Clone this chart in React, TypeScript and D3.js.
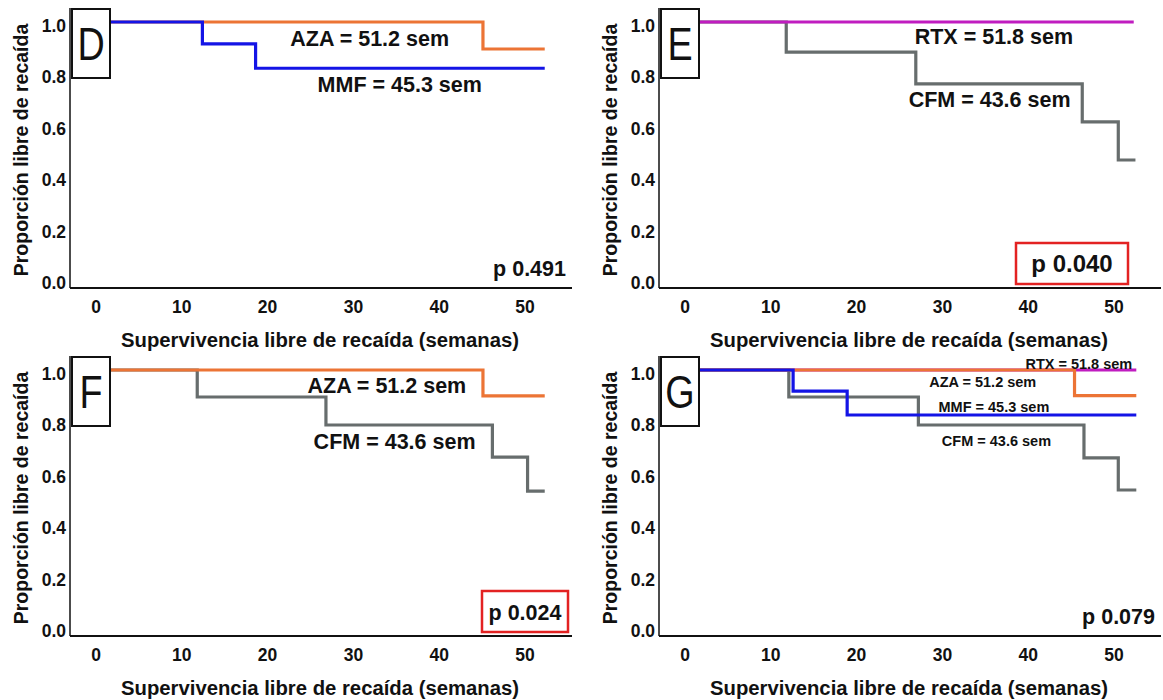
import { useEffect, useRef } from 'react';
import * as d3 from 'd3';

// semanas / proporción libre de recaída
const weekTicks = [0, 10, 20, 30, 40, 50];
const propTicks = [0, 0.2, 0.4, 0.6, 0.8, 1.0];

const dAZA = [[0, 1], [45.1, 0.895], [52.3, 0.895]];
const dMMF = [[0, 1], [12.4, 0.915], [18.6, 0.82], [52.3, 0.82]];

const eRTX = [[0, 1], [52.3, 1]];
const eCFM = [[0, 1], [11.8, 0.883], [26.9, 0.759], [46.3, 0.611], [50.5, 0.463], [52.5, 0.463]];

const fAZA = [[0, 1], [45.1, 0.899], [52.3, 0.899]];
const fCFM = [[0, 1], [11.8, 0.895], [26.8, 0.786], [46.2, 0.661], [50.3, 0.529], [52.3, 0.529]];

const gRTX = [[0, 1], [52.6, 1]];
const gAZA = [[0, 1], [45.4, 0.9], [52.6, 0.9]];
const gMMF = [[0, 1], [12.6, 0.918], [18.9, 0.825], [52.6, 0.825]];
const gCFM = [[0, 1], [12.1, 0.895], [27.2, 0.786], [46.5, 0.658], [50.5, 0.533], [52.6, 0.533]];

const colors = {
  AZA: '#ec7435',
  MMF: '#1414e6',
  CFM: '#676d6d',
  RTX: '#c01cc0',
};

const panels = [
  {
    letter: 'D', ox: 0, oy: 0,
    curves: [{ data: dAZA, color: colors.AZA }, { data: dMMF, color: colors.MMF }],
    labels: [
      { text: 'AZA = 51.2 sem', w: 31.9, v: 0.938, size: 21.5 },
      { text: 'MMF = 45.3 sem', w: 35.4, v: 0.759, size: 21.5 },
    ],
    p: 'p 0.491', pBox: null,
  },
  {
    letter: 'E', ox: 589, oy: 0,
    curves: [{ data: eCFM, color: colors.CFM }, { data: eRTX, color: colors.RTX }],
    labels: [
      { text: 'RTX = 51.8 sem', w: 36.0, v: 0.946, size: 21.5 },
      { text: 'CFM = 43.6 sem', w: 35.5, v: 0.698, size: 21.5 },
    ],
    p: 'p 0.040', pBox: { x: 427, w: 112, size: 24 },
  },
  {
    letter: 'F', ox: 0, oy: 348,
    curves: [{ data: fCFM, color: colors.CFM }, { data: fAZA, color: colors.AZA }],
    labels: [
      { text: 'AZA = 51.2 sem', w: 33.9, v: 0.942, size: 21.5 },
      { text: 'CFM = 43.6 sem', w: 34.8, v: 0.724, size: 21.5 },
    ],
    p: 'p 0.024', pBox: { x: 482, w: 86, size: 21.5 },
  },
  {
    letter: 'G', ox: 589, oy: 348,
    curves: [
      { data: gRTX, color: colors.RTX },
      { data: gCFM, color: colors.CFM },
      { data: gAZA, color: colors.AZA },
      { data: gMMF, color: colors.MMF },
    ],
    labels: [
      { text: 'RTX = 51.8 sem', w: 45.9, v: 1.023, size: 14.5 },
      { text: 'AZA = 51.2 sem', w: 34.7, v: 0.953, size: 14.5 },
      { text: 'MMF = 45.3 sem', w: 36.0, v: 0.856, size: 14.5 },
      { text: 'CFM = 43.6 sem', w: 36.3, v: 0.724, size: 14.5 },
    ],
    p: 'p 0.079', pBox: null,
  },
];

const FONT = '"Liberation Sans", Arial, sans-serif';

export default function App() {
  const svgRef = useRef<SVGSVGElement>(null);

  useEffect(() => {
    const svg = d3.select(svgRef.current);
    svg.selectAll('*').remove();

    const x = d3.scaleLinear().domain([0, 50]).range([96, 525]);
    const y = d3.scaleLinear().domain([0, 1]).range([279, 22]);
    const axisLeft = 70;
    const axisBottom = 288;

    const line = d3.line<number[]>()
      .x(d => x(d[0]))
      .y(d => y(d[1]))
      .curve(d3.curveStepAfter);

    panels.forEach(p => {
      const g = svg.append('g').attr('transform', `translate(${p.ox},${p.oy})`);

      // ejes
      g.append('line')
        .attr('x1', axisLeft).attr('x2', 572)
        .attr('y1', axisBottom).attr('y2', axisBottom)
        .attr('stroke', '#111').attr('stroke-width', 2);
      g.append('line')
        .attr('x1', axisLeft).attr('x2', axisLeft)
        .attr('y1', 8).attr('y2', axisBottom)
        .attr('stroke', '#111').attr('stroke-width', 1.5);

      g.selectAll('.xt').data(weekTicks).enter().append('text')
        .attr('x', d => x(d)).attr('y', 313)
        .attr('text-anchor', 'middle')
        .attr('font-family', FONT).attr('font-weight', 'bold').attr('font-size', 17.5)
        .attr('fill', '#111')
        .text(d => d);

      g.selectAll('.yt').data(propTicks).enter().append('text')
        .attr('x', 66).attr('y', d => y(d) + 10)
        .attr('text-anchor', 'end')
        .attr('font-family', FONT).attr('font-weight', 'bold').attr('font-size', 17.5)
        .attr('fill', '#111')
        .text(d => d.toFixed(1));

      g.append('text')
        .attr('x', 320).attr('y', 347)
        .attr('text-anchor', 'middle')
        .attr('font-family', FONT).attr('font-weight', 'bold').attr('font-size', 20.3)
        .attr('fill', '#111')
        .text('Supervivencia libre de recaída (semanas)');

      g.append('text')
        .attr('transform', 'translate(28,150) rotate(-90)')
        .attr('text-anchor', 'middle')
        .attr('font-family', FONT).attr('font-weight', 'bold').attr('font-size', 19.5)
        .attr('fill', '#111')
        .text('Proporción libre de recaída');

      // curvas de Kaplan-Meier
      p.curves.forEach(c => {
        g.append('path')
          .attr('d', line(c.data))
          .attr('fill', 'none')
          .attr('stroke', c.color)
          .attr('stroke-width', 3.2);
      });

      p.labels.forEach(l => {
        g.append('text')
          .attr('x', x(l.w)).attr('y', y(l.v))
          .attr('dy', '0.36em')
          .attr('text-anchor', 'middle')
          .attr('font-family', FONT).attr('font-weight', 'bold').attr('font-size', l.size)
          .attr('fill', '#111')
          .text(l.text);
      });

      // p valor
      if (p.pBox) {
        g.append('rect')
          .attr('x', p.pBox.x).attr('y', 243).attr('width', p.pBox.w).attr('height', 41)
          .attr('fill', 'white').attr('stroke', '#e32222').attr('stroke-width', 2.5);
        g.append('text')
          .attr('x', p.pBox.x + p.pBox.w / 2).attr('y', 272)
          .attr('text-anchor', 'middle')
          .attr('font-family', FONT).attr('font-weight', 'bold').attr('font-size', p.pBox.size)
          .attr('fill', '#111')
          .text(p.p);
      } else {
        g.append('text')
          .attr('x', 566).attr('y', 276)
          .attr('text-anchor', 'end')
          .attr('font-family', FONT).attr('font-weight', 'bold').attr('font-size', 21.5)
          .attr('fill', '#111')
          .text(p.p);
      }

      // recuadro con la letra
      g.append('rect')
        .attr('x', 72).attr('y', 9).attr('width', 38).attr('height', 69)
        .attr('fill', 'white').attr('stroke', '#111').attr('stroke-width', 2);
      g.append('text')
        .attr('transform', 'translate(91,60) scale(0.82,1)')
        .attr('text-anchor', 'middle')
        .attr('font-family', FONT)
        .attr('font-size', 46)
        .attr('fill', '#111')
        .text(p.letter);
    });
  }, []);

  return (
    <svg
      ref={svgRef}
      width={1163}
      height={700}
      style={{ position: 'absolute', left: 0, top: 0, background: 'white' }}
    />
  );
}
